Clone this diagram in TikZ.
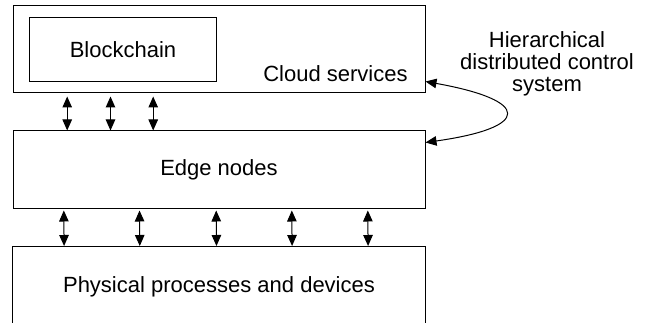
\documentclass[tikz,border=0pt]{standalone}
\usepackage{fontspec}
\setmainfont{Liberation Sans}
\usetikzlibrary{arrows.meta}
\begin{document}
\begin{tikzpicture}[x=1pt,y=-1pt,
  box/.style={draw, line width=1pt, inner sep=0pt, minimum width=412pt},
  lbl/.style={font=\fontsize{22}{22}\selectfont, inner sep=0pt},
  dbl/.style={{Triangle[length=11pt,width=9.5pt]}-{Triangle[length=11pt,width=9.5pt]}, line width=1pt}]
\useasboundingbox (0,0) rectangle (649,323);
\node[box, minimum height=87pt] (cloud) at (219,49.5) {};
\node[box, minimum width=187.4pt, minimum height=64.4pt, lbl] (chain) at (123,49.5) {Blockchain};
\node[lbl, anchor=base] (cloudlbl) at (335.5,81.5) {Cloud services};
\node[box, minimum height=78pt, lbl] (edge) at (219,170) {Edge nodes};
\node[inner sep=0pt, minimum width=412pt, minimum height=80.6pt, lbl] (phys) at (219,287) {Physical processes and devices};
\draw[line width=1pt] (phys.south west) -- (phys.north west) -- (phys.north east) -- (phys.south east);
\node[lbl, align=center, anchor=base] (hdcs) at (547,92) {Hierarchical\\distributed control\\system};
\foreach \dx in {54.7,98,140.7}
  \draw[dbl, shorten <=3pt] ([xshift=\dx pt]cloud.south west) -- ([xshift=\dx pt]edge.north west);
\foreach \dx in {51.3,127,203.7,279.3,355.3}
  \draw[dbl, shorten <=1pt, shorten >=0.5pt] ([xshift=\dx pt]edge.south west) -- ([xshift=\dx pt]phys.north west);
\draw[dbl] ([yshift=12pt]cloud.south east) .. controls +(106,19) and +(106,-15) .. ([yshift=-12pt]edge.north east);
\end{tikzpicture}
\end{document}
